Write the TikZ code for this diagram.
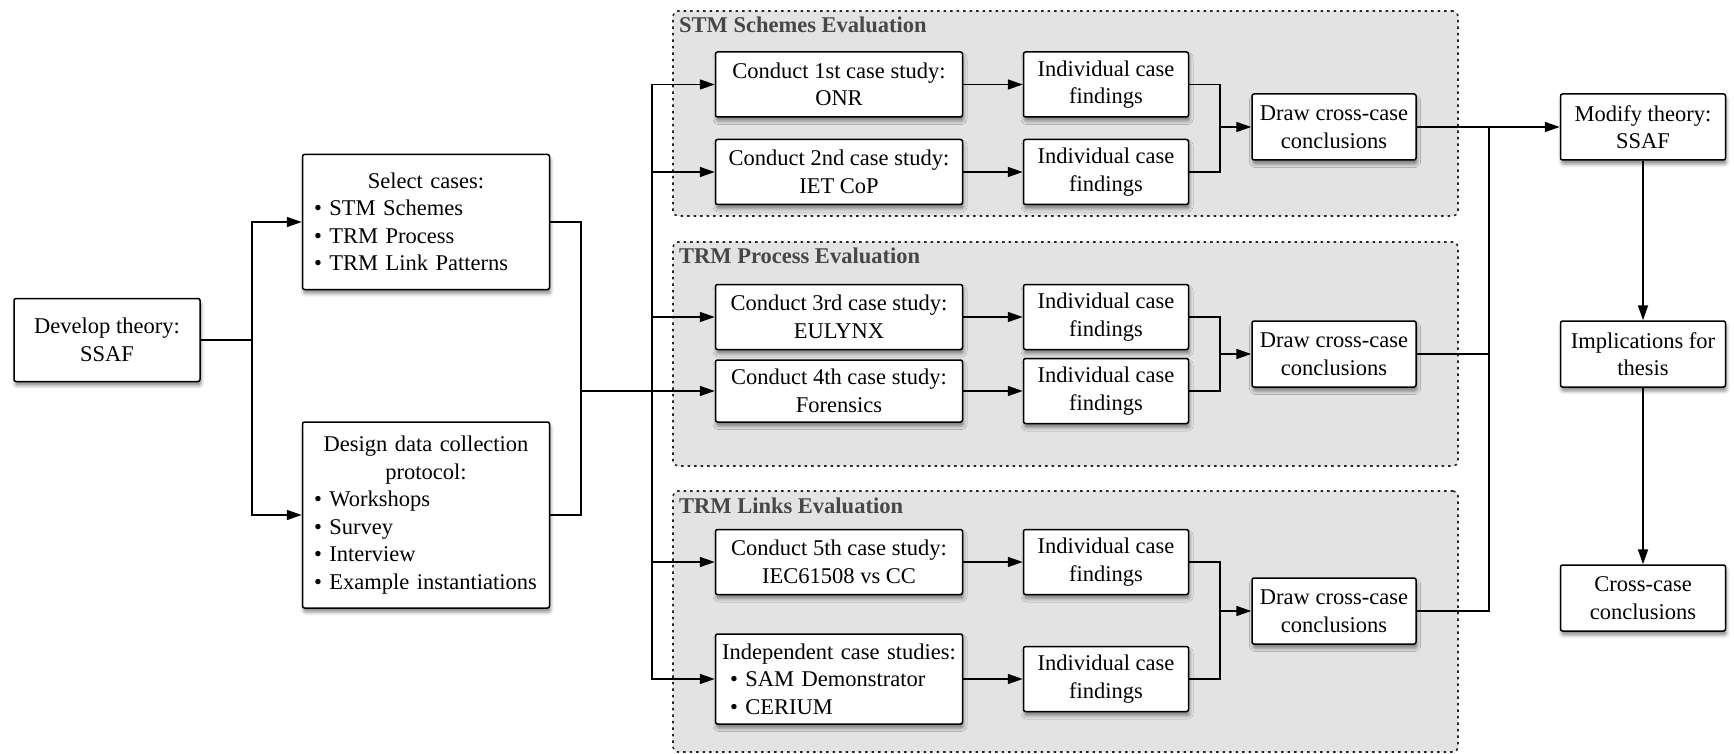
\documentclass[tikz,border=0pt]{standalone}
\usepackage{fontspec}
\setmainfont{Liberation Serif}
\usetikzlibrary{arrows.meta,shadows.blur}
% a line centred across the full text width inside a left-aligned node
\newcommand{\ctrline}[1]{\hspace*{\fill}#1\hspace*{\fill}\null}
\begin{document}
\begin{tikzpicture}[x=1pt,y=-1pt,
  base/.style={draw, line width=1.5pt, rounded corners=2pt, fill=white, inner sep=3pt,
    font=\fontsize{22.5}{27.5}\selectfont,
    blur shadow={shadow xshift=1pt, shadow yshift=-4pt, shadow blur radius=3.5pt, shadow opacity=45}},
  box/.style={base, align=center, minimum height=65pt},
  listbox/.style={base, align=left},
  grp/.style={draw=black!85, fill=black!11, line width=1.6pt, dash pattern=on 2.5pt off 4pt, rounded corners=5pt},
  grptitle/.style={anchor=west, inner sep=0pt, font=\fontsize{22.5}{27.5}\selectfont\bfseries, text=black!72},
  line/.style={line width=1.6pt},
  arr/.style={line, -{Triangle[length=15pt,width=10pt]}}]
\useasboundingbox (0,0) rectangle (1734,754);

% evaluation groups
\node[grp, minimum width=785pt, minimum height=205pt] (g1) at (1065.5,113.5) {};
\node[grp, minimum width=785pt, minimum height=224pt] (g2) at (1065.5,354) {};
\node[grp, minimum width=785pt, minimum height=261pt] (g3) at (1065.5,621.5) {};
\node[grptitle] (t1) at (679,25) {STM Schemes Evaluation};
\node[grptitle] (t2) at (679,256) {TRM Process Evaluation};
\node[grptitle] (t3) at (679,506) {TRM Links Evaluation};

% theory and preparation
\node[box, minimum width=186pt, minimum height=83pt] (dev) at (107,340) {Develop theory:\\SSAF};
\node[listbox, minimum width=247pt, minimum height=135pt, text width=224pt] (sel) at (426,222)
  {\ctrline{Select cases:}\\ • STM Schemes\\ • TRM Process\\ • TRM Link Patterns};
\node[listbox, minimum width=247pt, minimum height=186pt, text width=224pt] (des) at (426,515)
  {\ctrline{Design data collection}\\ \ctrline{protocol:}\\ • Workshops\\ • Survey\\ • Interview\\ • Example instantiations};

% case studies
\node[box, minimum width=247pt] (c1) at (839,84.5) {Conduct 1st case study:\\ONR};
\node[box, minimum width=247pt] (c2) at (839,172) {Conduct 2nd case study:\\IET CoP};
\node[box, minimum width=247pt] (c3) at (839,317) {Conduct 3rd case study:\\EULYNX};
\node[box, minimum width=247pt, minimum height=62pt] (c4) at (839,391) {Conduct 4th case study:\\Forensics};
\node[box, minimum width=247pt] (c5) at (839,562) {Conduct 5th case study:\\IEC61508 vs CC};
\node[listbox, minimum width=247pt, minimum height=90pt, text width=236pt] (c6) at (839,679)
  {\ctrline{Independent case studies:}\\ \hspace*{9pt}• SAM Demonstrator\\ \hspace*{9pt}• CERIUM};

% individual findings
\foreach \n/\y in {i1/84.5, i2/172, i3/317, i4/391, i5/562, i6/679}
  \node[box, minimum width=165pt] (\n) at (1106,\y) {Individual case\\findings};

% cross-case conclusions per group
\foreach \n/\y in {d1/127, d2/354, d3/611}
  \node[box, minimum width=164pt, minimum height=66pt] (\n) at (1334,\y) {Draw cross-case\\conclusions};

% final steps
\node[box, minimum width=165pt, minimum height=66pt] (mod) at (1643,127) {Modify theory:\\SSAF};
\node[box, minimum width=165pt, minimum height=66pt] (imp) at (1643,354) {Implications for\\thesis};
\node[box, minimum width=165pt, minimum height=66pt] (ccc) at (1643,598) {Cross-case\\conclusions};

% junction points
\coordinate (b0) at (252,340);
\coordinate (j1) at (581,391);
\coordinate (bus) at (652,391);
\coordinate (k1) at (1220,127);
\coordinate (k2) at (1220,354);
\coordinate (k3) at (1220,611);
\coordinate (m) at (1489,127);

% connectors
\draw[line] (dev.east) -- (b0);
\draw[arr] (b0) |- (sel.west);
\draw[arr] (b0) |- (des.west);
\draw[line] (sel.east) -| (j1);
\draw[line] (des.east) -| (j1);
\draw[line] (j1) -- (bus);
\foreach \n in {c1,c2,c3,c4,c5,c6}
  \draw[arr] (bus) |- (\n.west);
\foreach \a/\b in {c1/i1, c2/i2, c3/i3, c4/i4, c5/i5, c6/i6}
  \draw[arr] (\a.east) -- (\b.west);
\foreach \a/\b/\k in {i1/i2/k1, i3/i4/k2, i5/i6/k3}{
  \draw[line] (\a.east) -| (\k);
  \draw[line] (\b.east) -| (\k);
}
\draw[arr] (k1) -- (d1.west);
\draw[arr] (k2) -- (d2.west);
\draw[arr] (k3) -- (d3.west);
\draw[line] (d2.east) -| (m);
\draw[line] (d3.east) -| (m);
\draw[arr] (d1.east) -- (mod.west);
\draw[arr] (mod.south) -- (imp.north);
\draw[arr] (imp.south) -- (ccc.north);
\end{tikzpicture}
\end{document}
